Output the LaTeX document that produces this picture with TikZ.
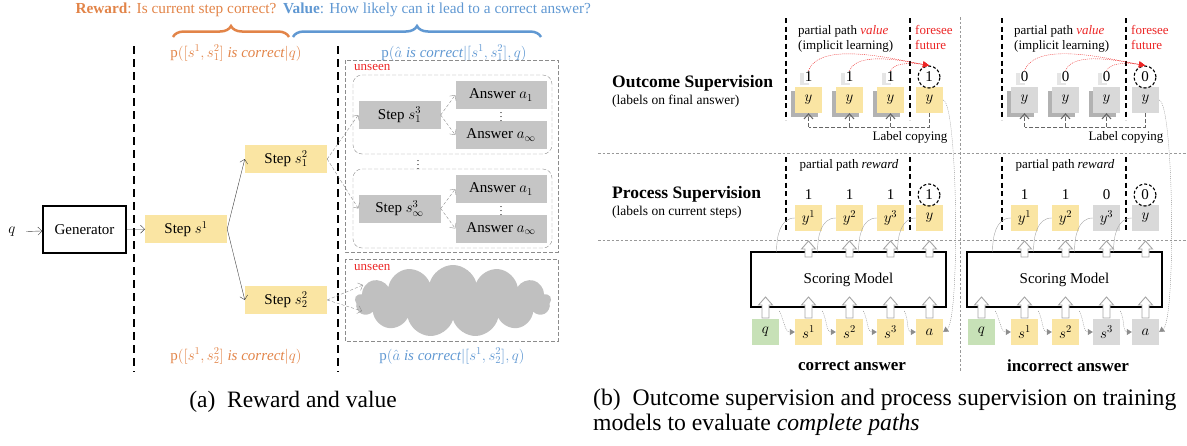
\RequirePackage{fix-cm}
\documentclass[tikz,border=0pt]{standalone}
\usepackage{fontspec}
\setmainfont{Liberation Serif}
\usetikzlibrary{arrows.meta,decorations.pathreplacing,shapes.symbols,shadows}

\definecolor{stepyel}{RGB}{250,229,163}
\definecolor{stepgrey}{RGB}{197,197,197}
\definecolor{lightgrey}{RGB}{217,217,217}
\definecolor{cloudgrey}{RGB}{192,192,192}
\definecolor{qgreen}{RGB}{199,225,183}
\definecolor{rwdorange}{RGB}{226,132,72}
\definecolor{valblue}{RGB}{96,152,210}
\definecolor{seenred}{RGB}{236,38,38}

\tikzset{
  note/.style={font=\fontsize{13}{15}\selectfont, inner sep=1pt},
  stepbox/.style={fill=stepyel, minimum width=82pt, minimum height=28pt, inner sep=0pt},
  greystep/.style={stepbox, fill=stepgrey},
  ansbox/.style={greystep, minimum width=91pt},
  smallbox/.style={minimum width=27pt, minimum height=26pt, inner sep=0pt},
  lab/.style={inner sep=1pt},
  circ/.style={circle, draw, line width=1.1pt, dash pattern=on 3pt off 2pt, minimum size=22pt, inner sep=0pt},
  boxshadow/.style={drop shadow={shadow xshift=-4pt, shadow yshift=-4pt, fill=black, opacity=0.3}},
  labshadow/.style={drop shadow={shadow xshift=-4pt, shadow yshift=-2pt, fill=black, opacity=0.1}},
  flow/.style={draw=black!75, -{Straight Barb[length=4pt,width=8pt]}},
  hidden/.style={flow, draw=black!45, dash pattern=on 3pt off 2pt},
  sepa/.style={line width=2pt, dash pattern=on 8pt off 5pt},
  sepb/.style={line width=1.4pt, dash pattern=on 5pt off 3.5pt},
  unseenbox/.style={draw=black!45, dash pattern=on 4pt off 2pt},
  divline/.style={draw=black!40, dash pattern=on 2.5pt off 2pt},
  brace/.style={decorate, decoration={brace, amplitude=11pt}, line width=2.5pt},
  hollow/.style={fill=white, draw=black!35, line width=0.9pt},
  thinline/.style={draw=black!35, thin},
  seqline/.style={draw=black!45, dash pattern=on 1pt off 1pt, -{Triangle[length=5pt,width=6pt]}},
  copyline/.style={draw=black!60, line width=1pt, dash pattern=on 4pt off 2pt},
  copyarrow/.style={copyline, -{Straight Barb[length=5pt,width=9pt]}},
  redarc/.style={draw=seenred, dash pattern=on 1pt off 1pt, -{Triangle[length=6pt,width=6pt]}},
}

% hollow block arrow pointing up: x, base y, tip y
\newcommand{\blockup}[3]{\draw[hollow] (#1-3.5,#2) -- (#1-3.5,#3+8) -- (#1-7,#3+8) -- (#1,#3) -- (#1+7,#3+8) -- (#1+3.5,#3+8) -- (#1+3.5,#2) -- cycle;}

% one column group of panel (b)
\newcommand{\supgroup}[8]{%
\begin{scope}[xshift=#2]
\draw[sepb] (786,18) -- (786,120) (910,18) -- (910,120);
\draw[sepb] (786,157) -- (786,232) (910,157) -- (910,232);
\node[note, align=left, anchor=north west] (#1-val) at (797,24) {partial path \textcolor{seenred}{\textit{value}}\\(implicit learning)};
\node[note, align=left, anchor=north west, text=seenred] (#1-fut) at (914,24) {foresee\\future};
\node[note] (#1-rew) at (849,165) {partial path \textit{reward}};
\node[note] (#1-copy) at (910,137) {Label copying};
\node[font=\bfseries\fontsize{17}{20}\selectfont] (#1-ans) at (852,366) {#8};
\node[draw, line width=1.5pt, minimum width=195pt, minimum height=55pt] (#1-sm) at (848.5,279.5) {Scoring Model};
\node[smallbox, fill=qgreen] (#1-in0) at (765.5,332) {$q$};
\node[smallbox, fill=#7] (#1-in4) at (929.5,332) {$a$};
\node[smallbox, fill=#7] (#1-py4) at (929.5,218) {$y$};
\node[circ] (#1-pl4) at (929,195) {#6};
\node[smallbox, fill=#4] (#1-oy4) at (929.5,100) {$y$};
\node[circ] (#1-ol4) at (929,77) {#3};
\blockup{765.5}{318}{297}
\foreach \i/\x/\l/\c in {#5} {
  \pgfmathtruncatemacro{\j}{\i-1}
  \node[smallbox, fill=\c] (#1-in\i) at (\x,332) {$s^\i$};
  \node[smallbox, fill=\c] (#1-py\i) at (\x,218) {$y^\i$};
  \node[lab] (#1-pl\i) at (\x,195) {\l};
  \node[smallbox, fill=#4, boxshadow] (#1-oy\i) at (\x,100) {$y$};
  \node[lab, fill=white, labshadow] (#1-ol\i) at (\x,77) {#3};
  \draw[seqline] (#1-in\j.east |- 0,311) to[out=-60,in=180] (#1-in\i.west);
  \draw[thinline] (\x-32,252) to[out=90,in=180] (#1-py\i.west);
  \blockup{\x}{318}{297}
  \blockup{\x}{257}{241}
  \draw[redarc] (#1-ol\i.north) to[out=70,in=170,looseness=0.7] (#1-ol4.north);
}
\draw[seqline] (#1-in3.east |- 0,311) to[out=-60,in=180] (#1-in4.west);
\draw[thinline] (897.5,252) to[out=90,in=180] (#1-py4.west);
\blockup{929.5}{318}{297}
\blockup{929.5}{257}{241}
\draw[seqline] (#1-oy4.east) .. controls (958,104) and (960,320) .. (#1-in4.east);
\draw[copyline] (#1-oy4.south) -- (#1-oy4.south |- 0,127) -- (#1-oy1.south |- 0,127);
\foreach \i in {1,2,3} \draw[copyarrow] (#1-oy\i.south |- 0,127) -- (#1-oy\i.south);
\end{scope}}

\begin{document}
\begin{tikzpicture}[x=1pt, y=-1pt, font=\fontsize{15}{18}\selectfont]
\useasboundingbox (0,0) rectangle (1187,445);

% (a) reward and value
\node[text=rwdorange, font=\fontsize{15.3}{18}\selectfont] (rwd) at (176,10) {\textbf{Reward}: Is current step correct?};
\node[text=valblue, font=\fontsize{15.3}{18}\selectfont] (val) at (437,10) {\textbf{Value}: How likely can it lead to a correct answer?};
\draw[rwdorange, brace] (173,37) -- (289,37);
\draw[valblue, brace] (293,37) -- (541,37);
\node[text=rwdorange] (pr1) at (236,53) {$\mathrm{p}([s^1,s_1^2]\ \mathit{is\ correct}|q)$};
\node[text=valblue] (pv1) at (454,53) {$\mathrm{p}(\hat{a}\ \mathit{is\ correct}|[s^1,s_1^2],q)$};
\node[text=rwdorange] (pr2) at (236,356) {$\mathrm{p}([s^1,s_2^2]\ \mathit{is\ correct}|q)$};
\node[text=valblue] (pv2) at (452,356) {$\mathrm{p}(\hat{a}\ \mathit{is\ correct}|[s^1,s_2^2],q)$};
\draw[sepa] (134,46) -- (134,372);
\draw[sepa] (338,46) -- (338,372);

\node (q) at (12,232) {$q$};
\node[draw, line width=1.5pt, minimum width=83pt, minimum height=47pt] (gen) at (84.5,229.5) {Generator};
\node[stepbox] (s1) at (186,229) {Step $s^1$};
\node[stepbox] (s12) at (286,159) {Step $s_1^2$};
\node[stepbox] (s22) at (286,300) {Step $s_2^2$};
\draw[flow, shorten <=7pt] (q) -- (gen);
\draw[flow] (gen) -- (s1);
\draw[flow] (s1.east) -- (s12.west);
\draw[flow] (s1.east) -- (s22.west);

\draw[unseenbox] (345,60) rectangle (558,252);
\draw[unseenbox] (345,259) rectangle (558,341);
\node[note, text=seenred, anchor=west] (u1) at (353,67) {unseen};
\node[note, text=seenred, anchor=west] (u2) at (353,267) {unseen};
\draw[unseenbox, rounded corners=9pt] (353,75) rectangle (552,154);
\draw[unseenbox, rounded corners=9pt] (353,169) rectangle (552,248);

\node[greystep] (s13) at (399.5,115) {Step $s_1^3$};
\node[ansbox] (a11) at (501,95) {Answer $a_1$};
\node[ansbox] (a1i) at (501,135) {Answer $a_\infty$};
\node[font=\fontsize{10}{10}\selectfont] (d1) at (501,114) {$\vdots$};
\node[greystep] (sI3) at (399.5,208.5) {Step $s_\infty^3$};
\node[ansbox] (a21) at (501,189) {Answer $a_1$};
\node[ansbox] (a2i) at (501,228.5) {Answer $a_\infty$};
\node[font=\fontsize{10}{10}\selectfont] (d2) at (501,208) {$\vdots$};
\node[font=\fontsize{10}{10}\selectfont] (d3) at (418,162) {$\vdots$};
\node[cloud, cloud puffs=13, aspect=2.6, fill=cloudgrey, minimum width=196pt, minimum height=72pt, inner sep=0pt] (cld) at (453,301) {};
\coordinate (cl1) at (363,285);
\coordinate (cl2) at (362,311);

\draw[hidden] (s12.east) -- (s13.west);
\draw[hidden] (s12.east) -- (sI3.west);
\draw[hidden] (s13.east) -- (a11.west);
\draw[hidden] (s13.east) -- (a1i.west);
\draw[hidden] (sI3.east) -- (a21.west);
\draw[hidden] (sI3.east) -- (a2i.west);
\draw[hidden] (s22.east) -- (cl1);
\draw[hidden] (s22.east) -- (cl2);

\node[font=\fontsize{23.5}{25}\selectfont] (capa) at (293,402) {(a)\enspace Reward and value};

% (b) outcome and process supervision
\draw[divline] (598,153) -- (1187,153);
\draw[divline] (598,240) -- (1187,240);
\draw[divline] (960,17) -- (960,372);
\node[anchor=west, inner sep=1pt, font=\bfseries\fontsize{17.5}{20}\selectfont] (outT) at (611,83) {Outcome Supervision};
\node[anchor=west, inner sep=1pt, font=\fontsize{13.5}{16}\selectfont] (outS) at (611,101) {(labels on final answer)};
\node[anchor=west, inner sep=1pt, font=\bfseries\fontsize{17.5}{20}\selectfont] (procT) at (611,194) {Process Supervision};
\node[anchor=west, inner sep=1pt, font=\fontsize{13.5}{16}\selectfont] (procS) at (611,212) {(labels on current steps)};

\supgroup{c}{0}{1}{stepyel}{1/808.5/1/stepyel, 2/849.5/1/stepyel, 3/890.5/1/stepyel}{1}{stepyel}{correct answer}
\supgroup{w}{216}{0}{lightgrey}{1/808.5/1/stepyel, 2/849.5/1/stepyel, 3/890.5/0/lightgrey}{0}{lightgrey}{incorrect answer}

\node[anchor=north west, align=left, inner sep=0pt, font=\fontsize{23.7}{25}\selectfont] (capb) at (593,389) {(b)\enspace Outcome supervision and process supervision on training\\models to evaluate \textit{complete paths}};
\end{tikzpicture}
\end{document}
